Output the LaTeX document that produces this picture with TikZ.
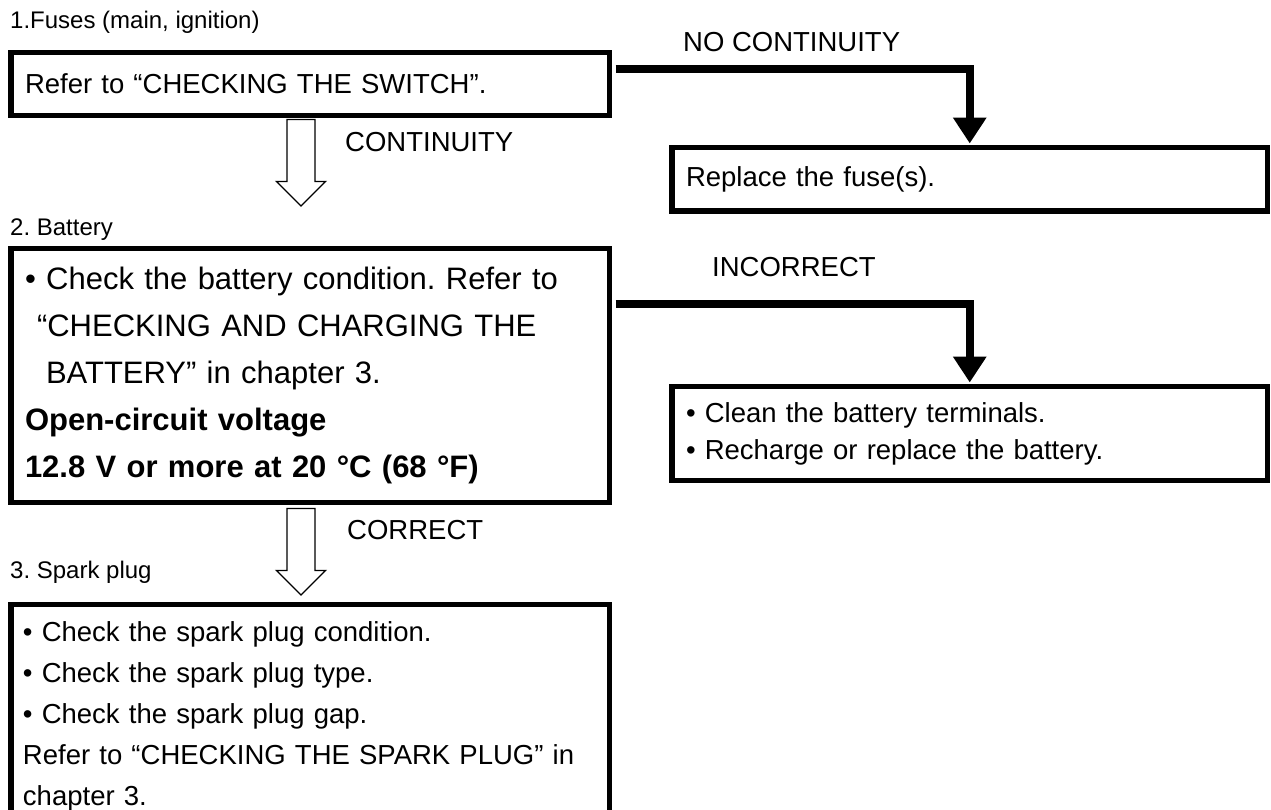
\documentclass[tikz,border=0pt]{standalone}
\usepackage{fontspec}
\setmainfont{Liberation Sans}
\usetikzlibrary{positioning,arrows.meta,calc}
\frenchspacing

\newcommand{\boxfont}{\fontsize{27.5}{41}\selectfont}
\newcommand{\bigboxfont}{\fontsize{31}{47}\selectfont}
\newcommand{\pairfont}{\fontsize{27.5}{37}\selectfont}
\newcommand{\titlefont}{\fontsize{24}{28}\selectfont}

\begin{document}
\begin{tikzpicture}[x=1pt,y=-1pt,
	box/.style={draw,line width=5.5pt,rectangle,anchor=north west,
		outer sep=0pt,inner xsep=14pt,align=left,font=\boxfont},
	title/.style={anchor=west,inner sep=0pt,font=\titlefont},
	lbl/.style={anchor=west,inner sep=0pt,font=\boxfont},
	hollow/.style={draw,line width=1.3pt,fill=white,line join=miter},
	elbow/.style={line width=8.5pt,-{Triangle[width=32pt,length=26pt]}}]
	
	\useasboundingbox (0,0) rectangle (1271,809);
	
	% 1. fuses
	\node[title] (t1) at (10,22) {1.Fuses (main, ignition)};
	\node[box,text width=570.5pt,minimum height=63pt] (chk) at (11,52.5)
	{Refer to “CHECKING THE SWITCH”.};
	\node[box,text width=567.5pt,minimum height=63.5pt] (fix) at (672,147.5)
	{Replace the fuse(s).};
	
	% 2. battery
	\node[title] (t2) at (10,230) {2. Battery};
	\node[box,text width=570.5pt,minimum height=254pt,font=\bigboxfont] (bat) at (11,248.5)
	{• Check the battery condition. Refer to\\
		\hspace*{12pt}“CHECKING AND CHARGING THE\\
		\hspace*{21pt}BATTERY” in chapter 3.\\
		\textbf{Open-circuit voltage}\\
		\textbf{12.8 V or more at 20 °C (68 °F)}};
	\node[box,text width=567.5pt,minimum height=94pt,font=\pairfont] (cln) at (672,386.5)
	{• Clean the battery terminals.\\
		• Recharge or replace the battery.};
	
	% 3. spark plug
	\node[title] (t3) at (10,572) {3. Spark plug};
	\node[box,text width=574.5pt,inner xsep=12pt,inner ysep=17pt] (spk) at (11,604.5)
	{• Check the spark plug condition.\\
		• Check the spark plug type.\\
		• Check the spark plug gap.\\
		\makebox[571pt][s]{Refer to “CHECKING THE SPARK PLUG” in}\\
		chapter 3.};
	
	% hollow arrows
	\draw[hollow] ($(chk.south)+(-23.25,4)$) -- ++(28,0) -- ++(0,62) -- ++(10.5,0)
	-- ++(-24.5,24.5) -- ++(-24.5,-24.5) -- ++(10.5,0) -- cycle;
	\draw[hollow] ($(bat.south)+(-23.25,6)$) -- ++(28,0) -- ++(0,62) -- ++(10.5,0)
	-- ++(-24.5,24.5) -- ++(-24.5,-24.5) -- ++(10.5,0) -- cycle;
	
	% thick elbows
	\draw[elbow] ($(chk.north east)+(6,16.5)$) -| ([yshift=4pt]fix.north);
	\draw[elbow] ($(bat.north east)+(6,55.5)$) -| ([yshift=4pt]cln.north);
	
	% labels
	\node[lbl] (nocont) at (683,42) {NO CONTINUITY};
	\node[lbl] (cont) at (345,142) {CONTINUITY};
	\node[lbl] (incor) at (712,267) {INCORRECT};
	\node[lbl] (cor) at (347,530) {CORRECT};
	
\end{tikzpicture}
\end{document}
